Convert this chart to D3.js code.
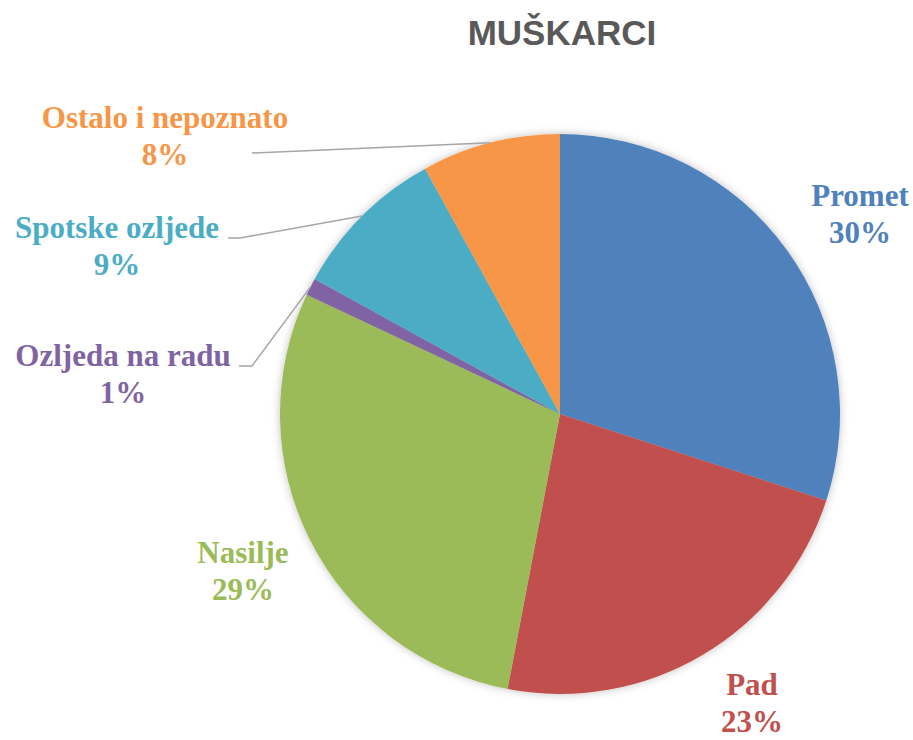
<!DOCTYPE html>
<html><head><meta charset="utf-8">
<script src="https://cdn.jsdelivr.net/npm/d3@7"></script>
<style>body{margin:0;background:#fff}
.lbl{font-family:"Liberation Serif","Times New Roman",Times,"DejaVu Serif",serif;font-weight:bold;}
</style>
</head><body>
<script>
const categories = ["Promet","Pad","Nasilje","Ozljeda na radu","Spotske ozljede","Ostalo i nepoznato"];
const values = [30,23,29,1,9,8];
const percentLabels = ["30%","23%","29%","1%","9%","8%"];
const colors = ["#4F81BD","#C0504D","#9BBB59","#8064A2","#4BACC6","#F79646"];

const W=913,H=740, cx=560, cy=414, R=280;
// label layout: [center x, first baseline y, leader elbow x (or null)]
const labelPos = [
  [860,206,null],
  [752,695,null],
  [243,563,null],
  [123,366,[239,252]],
  [117,238,[228,240]],
  [165,128,[252,null]]
];

const svg=d3.select("body").append("svg").attr("width",W).attr("height",H);
const defs=svg.append("defs");
const f=defs.append("filter").attr("id","sh").attr("x","-20%").attr("y","-20%").attr("width","140%").attr("height","140%");
f.append("feDropShadow").attr("dx",0).attr("dy",0).attr("stdDeviation",4).attr("flood-color","#000").attr("flood-opacity",0.25);

svg.append("text").attr("x",562).attr("y",45).attr("text-anchor","middle")
  .attr("font-family","Liberation Sans, Arial, sans-serif").attr("font-weight","bold")
  .attr("font-size",35).attr("fill","#595959").text("MUŠKARCI");

const data=categories.map((c,i)=>({c,v:values[i],p:percentLabels[i],col:colors[i],i}));
const pie=d3.pie().value(d=>d.v).sort(null);
const arcs=pie(data);
const arc=d3.arc().innerRadius(0).outerRadius(R);

const g=svg.append("g").attr("transform",`translate(${cx},${cy})`);
g.append("g").attr("filter","url(#sh)").selectAll("path").data(arcs).join("path")
  .attr("d",arc).attr("fill",d=>d.data.col);

// leader lines
arcs.forEach((a,i)=>{
  const lp=labelPos[i];
  if(!lp[2]) return;
  const m=(a.startAngle+a.endAngle)/2;
  const ex=cx+R*Math.sin(m), ey=cy-R*Math.cos(m);
  const ly = i===5 ? 153 : lp[1];
  let pts;
  if(lp[2][1]!==null) pts=[[lp[2][0],ly],[lp[2][1],ly],[ex,ey]];
  else pts=[[lp[2][0],ly],[ex,ey]];
  svg.append("path").attr("d",d3.line()(pts)).attr("fill","none")
    .attr("stroke","#A6A6A6").attr("stroke-width",1.5);
});

// labels
arcs.forEach((a,i)=>{
  const lp=labelPos[i];
  const t=svg.append("text").attr("class","lbl").attr("text-anchor","middle")
    .attr("font-size",31).attr("fill",a.data.col);
  t.append("tspan").attr("x",lp[0]).attr("y",lp[1]).text(a.data.c);
  t.append("tspan").attr("x",lp[0]).attr("y",lp[1]+37).text(a.data.p);
});
</script>
</body></html>
